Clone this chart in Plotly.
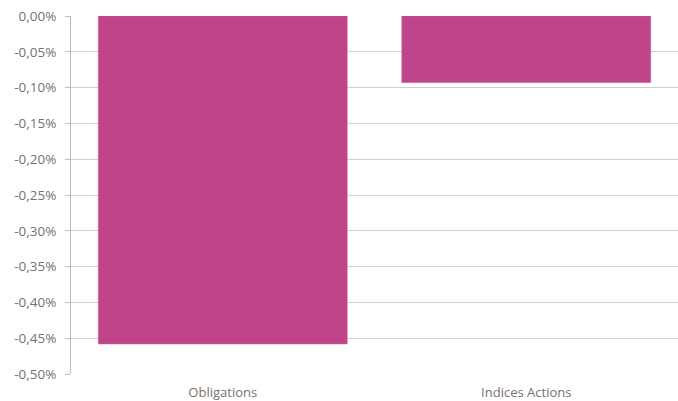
import plotly.graph_objects as go

categories = ["Obligations", "Indices Actions"]
values = [-0.00458, -0.00093]
tick_vals = [0, -0.0005, -0.001, -0.0015, -0.002, -0.0025, -0.003, -0.0035, -0.004, -0.0045, -0.005]
tick_text = ["0,00%", "-0,05%", "-0,10%", "-0,15%", "-0,20%", "-0,25%", "-0,30%", "-0,35%", "-0,40%", "-0,45%", "-0,50%"]

fig = go.Figure(go.Bar(
    x=categories, y=values,
    marker=dict(color="#BF4489", line=dict(color="#C8609A", width=0.6)),
    hoverinfo="skip",
))

fig.update_layout(
    width=678, height=401,
    margin=dict(l=71, r=0, t=16, b=27),
    paper_bgcolor="white", plot_bgcolor="white",
    bargap=0.18,
    showlegend=False,
    font=dict(family="Open Sans, Liberation Sans, sans-serif", size=13, color="#7a6f6f"),
    xaxis=dict(showline=False, ticks="", tickfont=dict(size=13), ticklabelstandoff=9, fixedrange=True),
    yaxis=dict(
        range=[-0.005, 0], tickvals=tick_vals, ticktext=tick_text,
        showgrid=True, gridcolor="#d0d0d0", gridwidth=1,
        showline=True, linecolor="#bdbdbd", linewidth=1,
        ticks="outside", ticklen=5, tickcolor="#bdbdbd",
        zeroline=False, tickfont=dict(size=13.5), ticklabelstandoff=6,
        fixedrange=True,
    ),
)

fig.write_html("out.html", config={"displayModeBar": False},
               post_script="document.body.style.margin='0';document.body.style.overflow='hidden';")
